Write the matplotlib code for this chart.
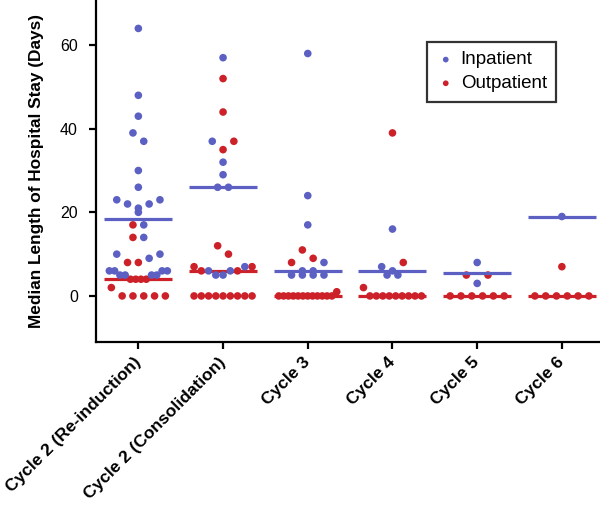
import numpy as np
import matplotlib
matplotlib.use("Agg")
import matplotlib.pyplot as plt

plt.rcParams['font.family'] = ['Liberation Sans', 'DejaVu Sans']

categories = ["Cycle 2 (Re-induction)", "Cycle 2 (Consolidation)", "Cycle 3",
              "Cycle 4", "Cycle 5", "Cycle 6"]

inpatient = [
    [64, 48, 43, 39, 37, 30, 26, 23, 23, 22, 22, 21, 20, 17, 14, 10, 10, 9,
     6, 6, 6, 6, 5, 5, 5, 5],
    [57, 37, 32, 29, 26, 26, 7, 6, 6, 5, 5],
    [58, 24, 17, 8, 6, 6, 5, 5, 5, 5],
    [16, 7, 6, 5, 5],
    [8, 3],
    [19],
]
outpatient = [
    [17, 14, 8, 8, 4, 4, 4, 4, 2, 0, 0, 0, 0, 0],
    [52, 44, 37, 35, 12, 10, 7, 7, 6, 6, 0, 0, 0, 0, 0, 0, 0, 0, 0],
    [11, 9, 8, 1, 0, 0, 0, 0, 0, 0, 0, 0, 0, 0, 0, 0],
    [39, 8, 2, 0, 0, 0, 0, 0, 0, 0, 0, 0],
    [5, 5, 0, 0, 0, 0, 0, 0],
    [7, 0, 0, 0, 0, 0, 0],
]
series_names = ["Inpatient", "Outpatient"]
colors = {"Inpatient": "#5b60c2", "Outpatient": "#cc2128"}

W, H = 600, 505
fig = plt.figure(figsize=(W / 100, H / 100), dpi=100)
ax = fig.add_axes([96 / W, 1 - 341.5 / H, 1 - 96 / W, 341.5 / H])
ylim = (-10.9, 70.8)
xlim = (-0.5, 5.45)
ax.set_xlim(*xlim)
ax.set_ylim(*ylim)

px_x = (W - 96) / (xlim[1] - xlim[0])


def scatter_offsets(vals, bin_h=2.0, step_px=10.8, max_w_px=58.0):
    """Column-scatter layout: group close values into rows, spread each row
    centre-out (lowest values in the middle). Returns x offsets (data units)."""
    vals = np.asarray(vals, float)
    offs = np.zeros(len(vals))
    order = list(np.argsort(-vals, kind="stable"))
    rows = []
    while order:
        top = vals[order[0]]
        row = [i for i in order if vals[i] >= top - bin_h]
        order = [i for i in order if vals[i] < top - bin_h]
        rows.append(row)
    for row in rows:
        n = len(row)
        s = step_px if n <= 1 else min(step_px, max_w_px / (n - 1))
        pos = (np.arange(n) - (n - 1) / 2) * s
        if n % 2:
            seq = sorted(pos, key=lambda p: (round(abs(p), 6), p))
        else:
            seq = sorted(pos, key=lambda p: (round(abs(p), 6), -p))
        row_sorted = sorted(row, key=lambda i: vals[i])
        for i, p in zip(row_sorted, seq):
            offs[i] = p / px_x
    return offs


half = 34 / px_x
handles = {}
for ci in range(len(categories)):
    vals = inpatient[ci] + outpatient[ci]
    labs = ["Inpatient"] * len(inpatient[ci]) + ["Outpatient"] * len(outpatient[ci])
    offs = scatter_offsets(vals)
    vals = np.array(vals, float)
    labs = np.array(labs)
    for name, zd in (("Outpatient", 2), ("Inpatient", 4)):
        m = labs == name
        h = ax.scatter(ci + offs[m], vals[m], s=30, color=colors[name], edgecolors="none",
                       zorder=zd)
        handles.setdefault(name, h)
        med = np.median(vals[m])
        ax.plot([ci - half, ci + half], [med, med], color=colors[name], lw=2.3,
                solid_capstyle="butt", zorder=zd + 1)

for s in ("top", "right"):
    ax.spines[s].set_visible(False)
for s in ("left", "bottom"):
    ax.spines[s].set_linewidth(1.6)

ax.set_yticks([0, 20, 40, 60])
ax.set_xticks(range(len(categories)))
ax.set_xticklabels(categories, rotation=45, ha="right", va="center",
                   rotation_mode="anchor", fontsize=12.5, fontweight="bold")
ax.tick_params(axis="both", direction="out", length=5, width=1.6, colors="black")
ax.tick_params(axis="y", labelsize=11.5, pad=8)
ax.tick_params(axis="x", pad=8)
ax.set_ylabel("Median Length of Hospital Stay (Days)", fontsize=12.4, fontweight="bold")
ax.yaxis.set_label_coords(-0.103, 0.5)

leg = ax.legend([handles[n] for n in series_names], series_names,
                loc="upper left", bbox_to_anchor=((427 - 96) / 504, 1 - 42 / 341.5),
                frameon=True, fancybox=False, edgecolor="black", fontsize=13.5,
                markerscale=0.75, handletextpad=0.3, borderpad=0.5, labelspacing=0.35,
                handlelength=1.0, borderaxespad=0)
leg.get_frame().set_linewidth(1.6)

fig.savefig("out.png", dpi=100)
